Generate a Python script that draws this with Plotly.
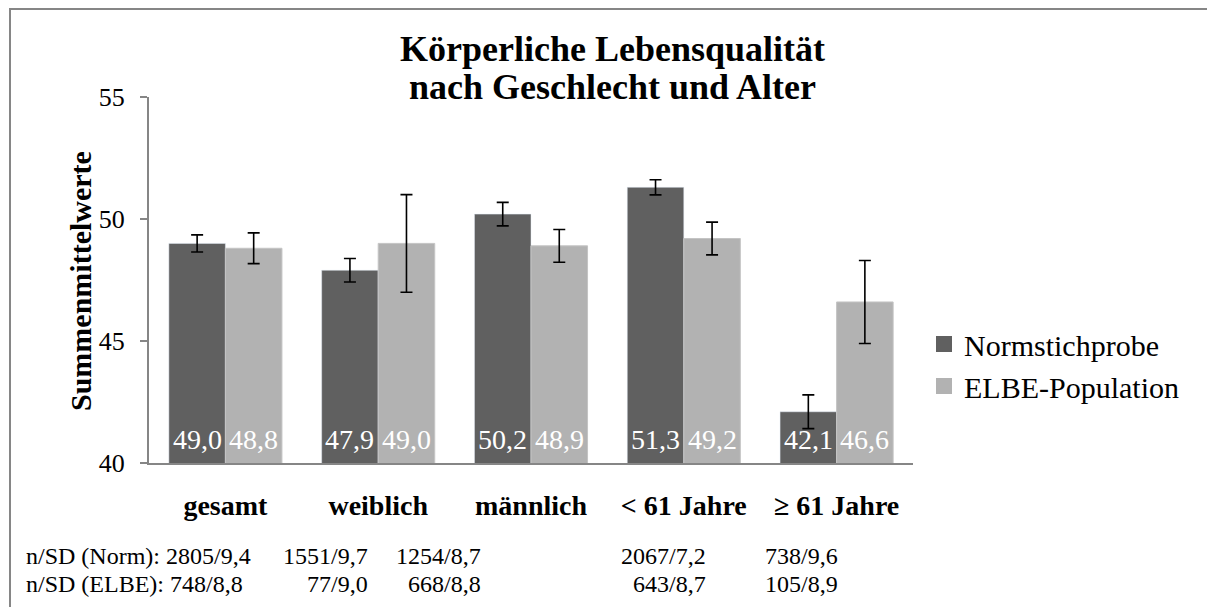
import plotly.graph_objects as go

# data
categories = ["gesamt", "weiblich", "männlich", "< 61 Jahre", "≥ 61 Jahre"]
norm_mean = [49.0, 47.9, 50.2, 51.3, 42.1]
elbe_mean = [48.8, 49.0, 48.9, 49.2, 46.6]
norm_ci = [0.35, 0.48, 0.48, 0.31, 0.69]
elbe_ci = [0.63, 2.0, 0.67, 0.67, 1.7]
norm_labels = ["49,0", "47,9", "50,2", "51,3", "42,1"]
elbe_labels = ["48,8", "49,0", "48,9", "49,2", "46,6"]
nsd_norm = ["2805/9,4", "1551/9,7", "1254/8,7", "2067/7,2", "738/9,6"]
nsd_elbe = ["748/8,8", "77/9,0", "668/8,8", "643/8,7", "105/8,9"]

NORM_COLOR = "#606060"
ELBE_COLOR = "#b2b2b2"
FONT = "Liberation Serif"

# page has an 8px body margin, so the figure is a bit smaller than the window
W, H = 1207, 599
L, R, T, B = 141, 302, 89, 144
pw, ph = W - L - R, H - T - B


def px(x):  # page pixel -> paper x
    return (x - 8 - L) / pw


def py(y):  # page pixel -> paper y
    return (H - B - (y - 8)) / ph


fig = go.Figure()
fig.add_trace(go.Bar(
    x=categories, y=norm_mean, name="Normstichprobe", showlegend=False,
    marker=dict(color=NORM_COLOR),
    error_y=dict(type="data", array=norm_ci, color="black", thickness=1.6, width=6),
))
fig.add_trace(go.Bar(
    x=categories, y=elbe_mean, name="ELBE-Population", showlegend=False,
    marker=dict(color=ELBE_COLOR, line=dict(color="#c4c4c4", width=1)),
    error_y=dict(type="data", array=elbe_ci, color="black", thickness=1.6, width=6),
))
# legend entries with bigger square symbols
for name, col in [("Normstichprobe", NORM_COLOR), ("ELBE-Population", ELBE_COLOR)]:
    fig.add_trace(go.Scatter(x=[None], y=[None], mode="markers", name=name,
                             marker=dict(symbol="square", size=16, color=col)))

bar_half = pw / len(categories) * (1 - 0.26) / 4
annotations = []
# value labels at the bottom of each bar
for i, c in enumerate(categories):
    for lab, sh in [(norm_labels[i], -bar_half), (elbe_labels[i], bar_half)]:
        annotations.append(dict(text=lab, x=c, y=40, xref="x", yref="y", xshift=sh, yshift=6,
                                yanchor="bottom", showarrow=False,
                                font=dict(size=28, family=FONT, color="white")))

# title as two lines
annotations.append(dict(text="<b>Körperliche Lebensqualität</b>", x=px(612), y=py(49),
                        xref="paper", yref="paper", showarrow=False, yanchor="middle",
                        font=dict(size=36, family=FONT, color="black")))
annotations.append(dict(text="<b>nach Geschlecht und Alter</b>", x=px(612), y=py(87),
                        xref="paper", yref="paper", showarrow=False, yanchor="middle",
                        font=dict(size=36, family=FONT, color="black")))
annotations.append(dict(text="<b>Summenmittelwerte</b>", textangle=-90, x=px(80), y=py(281),
                        xref="paper", yref="paper", showarrow=False,
                        xanchor="center", yanchor="middle",
                        font=dict(size=30, family=FONT, color="black")))

# n/SD rows below the chart
row_y = [556, 584]
first_prefix = ["n/SD (Norm): ", "n/SD (ELBE): "]
right_edges = [370, 483, 708, 840]
for r, vals in enumerate([nsd_norm, nsd_elbe]):
    annotations.append(dict(text=first_prefix[r] + vals[0], x=px(24), y=py(row_y[r]),
                            xref="paper", yref="paper", xanchor="left", yanchor="middle",
                            showarrow=False, font=dict(size=24, family=FONT, color="black")))
    for i, v in enumerate(vals[1:]):
        annotations.append(dict(text=v, x=px(right_edges[i]), y=py(row_y[r]),
                                xref="paper", yref="paper", xanchor="right", yanchor="middle",
                                showarrow=False, font=dict(size=24, family=FONT, color="black")))

fig.update_layout(
    width=W, height=H,
    margin=dict(l=L, r=R, t=T, b=B),
    paper_bgcolor="white", plot_bgcolor="white",
    barmode="group", bargap=0.26, bargroupgap=0,
    font=dict(family=FONT, color="black"),
    legend=dict(x=px(924), y=py(365), xanchor="left", yanchor="middle",
                font=dict(size=30, family=FONT, color="black"), itemwidth=30),
    annotations=annotations,
    shapes=[dict(type="rect", xref="paper", yref="paper", x0=px(10), y0=py(700), x1=px(1300), y1=py(9),
                 line=dict(color="#868686", width=2), layer="below")],
)
fig.update_yaxes(range=[40, 55], tickvals=[40, 45, 50, 55], showgrid=False, zeroline=False,
                 showline=True, linecolor="#868686", linewidth=2, ticks="outside", ticklen=7,
                 tickcolor="#868686", tickwidth=1.5, ticklabelstandoff=10,
                 tickfont=dict(size=26, family=FONT, color="black"))
fig.update_xaxes(showgrid=False, showline=True, linecolor="#868686", linewidth=2,
                 ticks="outside", ticklen=16, tickcolor="rgba(0,0,0,0)",
                 tickfont=dict(size=28, family=FONT, color="black"),
                 tickvals=categories, ticktext=["<b>%s</b>" % c for c in categories])

fig.write_html("out.html")
